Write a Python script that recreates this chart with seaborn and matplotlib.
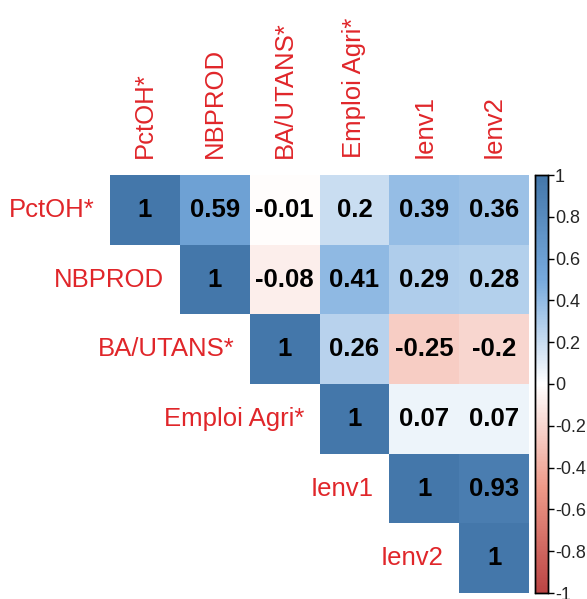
import numpy as np
import pandas as pd
import matplotlib
matplotlib.use("Agg")
import matplotlib.pyplot as plt
import seaborn as sns
from matplotlib.colors import LinearSegmentedColormap

# variables et matrice de corrélation
variables = ["PctOH*", "NBPROD", "BA/UTANS*", "Emploi Agri*", "Ienv1", "Ienv2"]
row_pctoh = [1, 0.59, -0.01, 0.2, 0.39, 0.36]
row_nbprod = [0.59, 1, -0.08, 0.41, 0.29, 0.28]
row_bautans = [-0.01, -0.08, 1, 0.26, -0.25, -0.2]
row_emploi = [0.2, 0.41, 0.26, 1, 0.07, 0.07]
row_ienv1 = [0.39, 0.29, -0.25, 0.07, 1, 0.93]
row_ienv2 = [0.36, 0.28, -0.2, 0.07, 0.93, 1]
cbar_ticks = [-1, -0.8, -0.6, -0.4, -0.2, 0, 0.2, 0.4, 0.6, 0.8, 1]

corr = pd.DataFrame([row_pctoh, row_nbprod, row_bautans, row_emploi, row_ienv1, row_ienv2],
                    index=variables, columns=variables)
n = len(variables)
mask = np.tril(np.ones((n, n), dtype=bool), k=-1)
annot = corr.map(lambda v: f"{v:g}").values

cmap = LinearSegmentedColormap.from_list(
    "corr", ["#BB4444", "#EE9988", "#FFFFFF", "#77AADD", "#4477AA"])

sns.set_style("white")
plt.rcParams['font.family'] = ['Liberation Sans', 'DejaVu Sans']

fig = plt.figure(figsize=(5.87, 5.99), dpi=100)
ax = fig.add_axes([110 / 587, 6 / 599, 419 / 587, 418 / 599])
cax = fig.add_axes([535 / 587, 6 / 599, 13 / 587, 418 / 599])

sns.heatmap(corr, mask=mask, cmap=cmap, vmin=-1, vmax=1, annot=annot, fmt="",
            annot_kws={"fontsize": 18.5, "fontweight": "bold", "color": "black"},
            cbar_ax=cax, ax=ax, xticklabels=False, yticklabels=False)

# étiquettes en rouge le long de la diagonale et en haut
for i, name in enumerate(variables):
    ax.text(i - 0.22, i + 0.5, name, ha='right', va='center', color='#E0262A',
            fontsize=18.5, clip_on=False)
    ax.text(i + 0.5, -0.25, name, ha='center', va='bottom', rotation=90,
            color='#E0262A', fontsize=18.5, clip_on=False)

# barre de couleur
cax.set_yticks(cbar_ticks)
cax.set_yticklabels([f"{t:g}" for t in cbar_ticks])
cax.tick_params(axis='y', labelsize=13, length=4, width=1, color='black', pad=1)
for s in cax.spines.values():
    s.set_visible(True)
    s.set_edgecolor('black')
    s.set_linewidth(1)

plt.savefig("out.png", dpi=100)
